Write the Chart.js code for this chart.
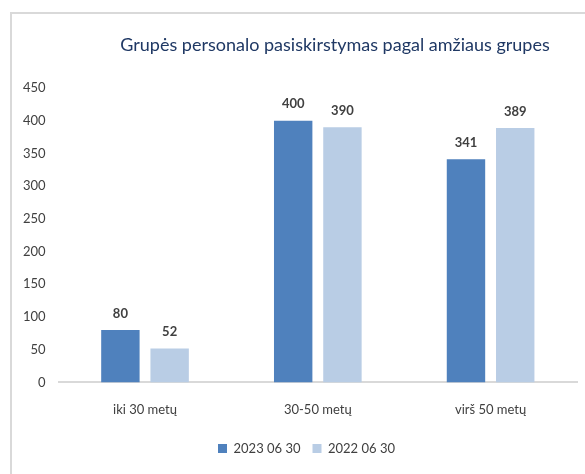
<!DOCTYPE html>
<html lang="lt">
<head>
    <meta charset="UTF-8">
    <title>Grupės personalo pasiskirstymas pagal amžiaus grupes</title>
    <script src="https://cdn.jsdelivr.net/npm/chart.js@4.4.0/dist/chart.umd.min.js"></script>
    <style>
        body {
            margin: 0;
            background: #ffffff;
            overflow: hidden;
        }
        .frame {
            position: absolute;
            left: 10px;
            top: 12px;
            width: 590px;
            height: 480px;
            border: 2px solid #d9d9d9;
        }
        .wrap {
            position: absolute;
            left: 0;
            top: 0;
            width: 585px;
            height: 474px;
        }
    </style>
</head>
<body>
    <div class="frame"></div>
    <div class="wrap"><canvas id="chart" width="585" height="474"></canvas></div>

    <script>
        const chartTitle = 'Grupės personalo pasiskirstymas pagal amžiaus grupes';
        const categories = ['iki 30 metų', '30-50 metų', 'virš 50 metų'];
        const seriesNames = ['2023 06 30', '2022 06 30'];
        const values2023 = [80, 400, 341];
        const values2022 = [52, 390, 389];
        const yTicks = [0, 50, 100, 150, 200, 250, 300, 350, 400, 450];

        const fontFamily = 'Lato, sans-serif';
        const textColor = '#404040';

        // title + value labels drawn by hand
        const labelsPlugin = {
            id: 'labels',
            afterLayout(chart) {
                // legend sits a bit right of centre in the original
                chart.legend.left += 13;
                chart.legend.right += 13;
            },
            afterDatasetsDraw(chart) {
                const ctx = chart.ctx;
                ctx.save();
                ctx.fillStyle = '#1f3864';
                ctx.font = '18px ' + fontFamily;
                ctx.textAlign = 'center';
                ctx.textBaseline = 'middle';
                ctx.fillText(chartTitle, 335, 45);

                ctx.fillStyle = textColor;
                ctx.font = 'bold 13px ' + fontFamily;
                ctx.textBaseline = 'bottom';
                chart.data.datasets.forEach((ds, i) => {
                    chart.getDatasetMeta(i).data.forEach((bar, j) => {
                        ctx.fillText(ds.data[j], bar.x, bar.y - 10);
                    });
                });
                ctx.restore();
            }
        };

        const ctx = document.getElementById('chart').getContext('2d');
        new Chart(ctx, {
            type: 'bar',
            data: {
                labels: categories,
                datasets: [{
                    label: seriesNames[0],
                    data: values2023,
                    backgroundColor: '#4f81bd'
                }, {
                    label: seriesNames[1],
                    data: values2022,
                    backgroundColor: '#b9cde5'
                }]
            },
            options: {
                responsive: false,
                animation: false,
                layout: {
                    padding: { top: 88, left: 10, right: 8, bottom: 9 }
                },
                scales: {
                    y: {
                        min: 0,
                        max: 450,
                        afterBuildTicks(axis) {
                            axis.ticks = yTicks.map(v => ({ value: v }));
                        },
                        grid: { display: false, drawTicks: false },
                        border: { display: false },
                        ticks: {
                            color: textColor,
                            font: { family: fontFamily, size: 13 },
                            padding: 13
                        }
                    },
                    x: {
                        grid: { display: false },
                        border: { color: '#d9d9d9', width: 2 },
                        ticks: {
                            color: textColor,
                            font: { family: fontFamily, size: 13 },
                            padding: 12
                        }
                    }
                },
                datasets: {
                    bar: { categoryPercentage: 0.57, barPercentage: 0.78 }
                },
                plugins: {
                    legend: {
                        position: 'bottom',
                        labels: {
                            color: textColor,
                            font: { family: fontFamily, size: 13 },
                            boxWidth: 9,
                            boxHeight: 9,
                            padding: 12
                        }
                    },
                    tooltip: { enabled: false }
                }
            },
            plugins: [labelsPlugin]
        });
    </script>
</body>
</html>
